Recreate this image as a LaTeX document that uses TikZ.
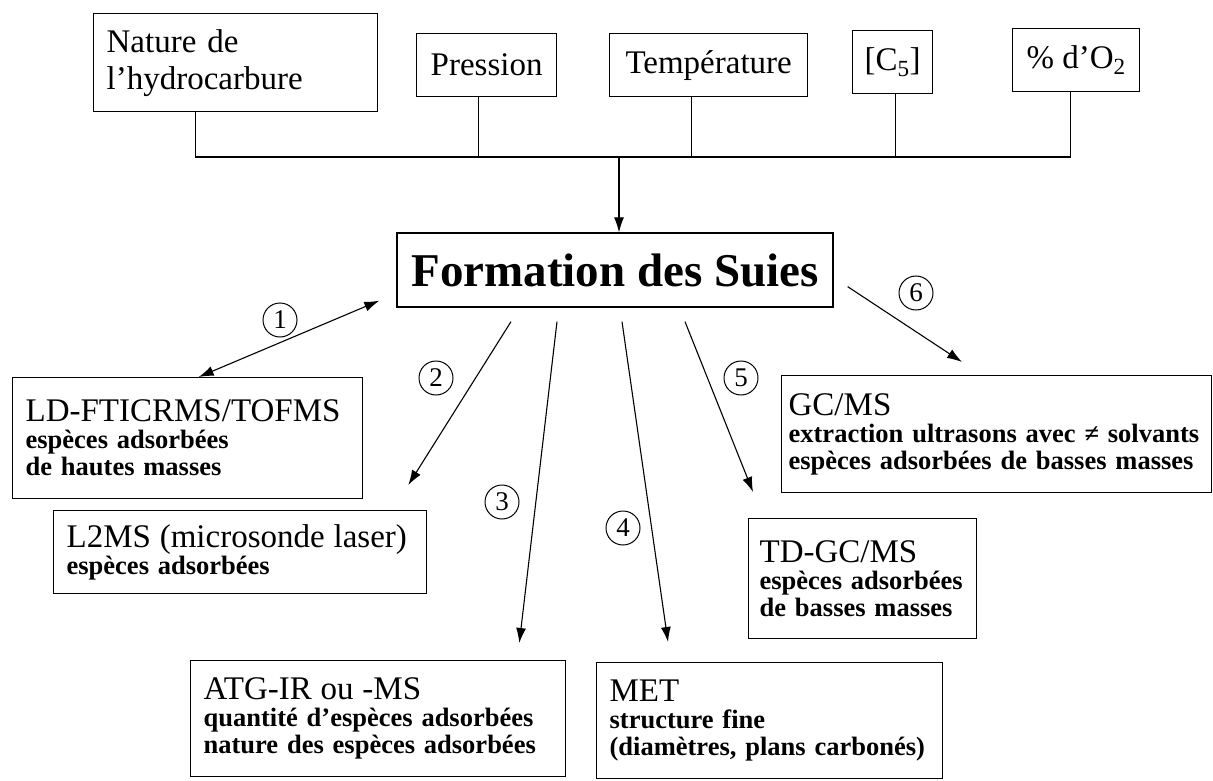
\documentclass[tikz,border=0pt]{standalone}
\usepackage{fontspec}
\setmainfont{Liberation Serif}
\usepackage{tikz}
\usetikzlibrary{arrows.meta,positioning}

\newcommand{\titre}[1]{{\fontsize{33}{36}\selectfont\mdseries #1}}

\begin{document}
\begin{tikzpicture}[
    x=1pt, y=-1pt,
    every node/.style={font=\fontsize{33}{37}\selectfont},
    param/.style={rectangle, draw, line width=1.3pt, inner xsep=12pt, minimum height=63pt, anchor=north west},
    box/.style={rectangle, draw, line width=1.3pt, inner xsep=13pt, inner ysep=0pt, align=left,
                anchor=north west, font=\fontsize{26.5}{27}\selectfont\bfseries},
    num/.style={circle, draw, line width=1pt, inner sep=0pt, minimum size=34pt, font=\fontsize{27}{27}\selectfont},
    line/.style={line width=1.1pt},
    arrow/.style={->, >={Latex[length=15pt,width=10pt]}, line width=1.1pt}
]
\useasboundingbox (0,0) rectangle (1213,781);
% Parametres (haut)
\node[param, minimum width=284pt, minimum height=98pt, text width=258pt, align=left] (nat) at (93,13) {Nature de\\l'hydrocarbure};
\node[param, minimum width=140pt] (pres) at (416,33) {Pression};
\node[param, minimum width=198pt] (temp) at (609,33) {Température};
\node[param, minimum width=80pt] (c5) at (852,30) {[C\textsubscript{5}]};
\node[param, minimum width=127pt] (o2) at (1012,28) {\% d'O\textsubscript{2}};
% Noeud central
\node[draw, line width=1.3pt, minimum width=436pt, minimum height=74pt,
      font=\fontsize{47}{50}\selectfont\bfseries] (form) at (615,270) {Formation des Suies};
% Techniques d'analyse
\node[box, text width=324pt, minimum height=121pt] (ld) at (12,377) {\titre{LD-FTICRMS/TOFMS}\\espèces adsorbées\\de hautes masses};
\node[box, text width=347pt, minimum height=83pt] (l2ms) at (53,510) {\titre{L2MS (microsonde laser)}\\espèces adsorbées};
\node[box, text width=349pt, minimum height=116pt] (atg) at (190,660) {\titre{ATG-IR ou -MS}\\quantité d'espèces adsorbées\\nature des espèces adsorbées};
\node[box, text width=320pt, minimum height=116pt] (met) at (596,662) {\titre{MET}\\structure fine\\(diamètres, plans carbonés)};
\node[box, text width=206pt, inner xsep=11pt, minimum height=120pt] (td) at (748,518) {\titre{TD-GC/MS}\\espèces adsorbées\\de basses masses};
\node[box, text width=416pt, inner xsep=7pt, minimum height=117pt] (gc) at (781,375) {\titre{GC/MS}\\extraction ultrasons avec ≠ solvants\\espèces adsorbées de basses masses};
% Bus du haut
\coordinate (bus) at (619,157);
\draw[line] ([xshift=-40pt]nat.south) |- (bus);
\draw[line] ([xshift=-8pt]pres.south) |- (bus);
\draw[line] ([xshift=-17pt]temp.south) |- (bus);
\draw[line] ([xshift=3pt]c5.south) |- (bus);
\draw[line] ([xshift=-6pt]o2.south) |- (bus);
\draw[arrow] (bus) -- (bus |- form.north);
% Extremites des fleches
\coordinate (h1) at ([shift={(-17pt,7pt)}]form.south west);
\coordinate (t2) at ([shift={(-104pt,-14pt)}]form.south);
\coordinate (t3) at ([shift={(-58pt,-14pt)}]form.south);
\coordinate (t4) at ([shift={(7pt,-14pt)}]form.south);
\coordinate (t5) at ([shift={(70pt,-14pt)}]form.south);
\coordinate (t6) at ([shift={(14pt,21pt)}]form.south east);
\coordinate (h2) at ([shift={(-19pt,25pt)}]l2ms.north east);
\coordinate (h3) at ([shift={(-47pt,17pt)}]atg.north east);
\coordinate (h4) at ([shift={(72pt,20pt)}]met.north west);
\coordinate (h5) at ([shift={(5pt,26pt)}]td.north west);
\coordinate (h6) at ([shift={(181pt,13pt)}]gc.north west);
% Fleches
\draw[arrow, <->] (h1) -- ([xshift=11pt]ld.north);
\draw[arrow] (t2) -- (h2);
\draw[arrow] (t3) -- (h3);
\draw[arrow] (t4) -- (h4);
\draw[arrow] (t5) -- (h5);
\draw[arrow] (t6) -- (h6);
% Numeros
\node[num] (n1) at (280,320) {1};
\node[num] (n2) at (436,378) {2};
\node[num] (n3) at (502,502) {3};
\node[num] (n4) at (623,528) {4};
\node[num] (n5) at (741,378) {5};
\node[num] (n6) at (916,293) {6};
\end{tikzpicture}
\end{document}
